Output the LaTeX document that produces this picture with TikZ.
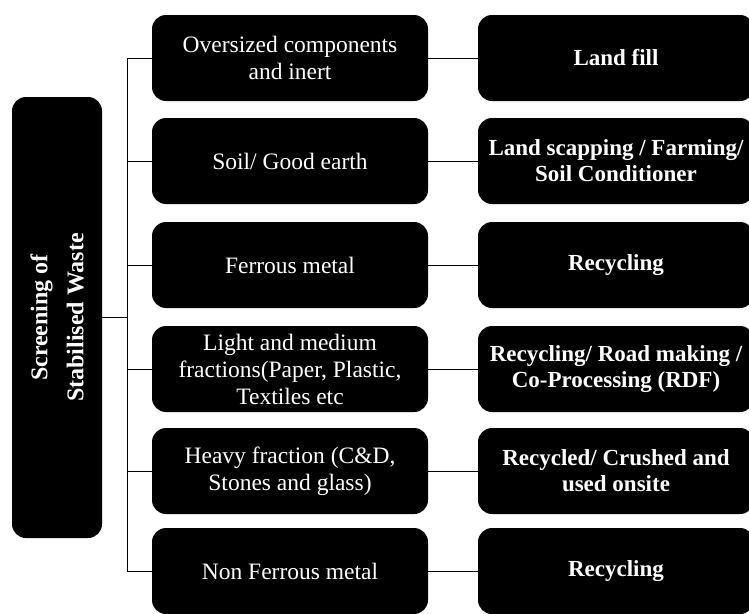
\documentclass[tikz,border=0pt]{standalone}
\usepackage{fontspec}
\setmainfont{Liberation Serif}
\begin{document}
\begin{tikzpicture}[x=1pt,y=-1pt,
  mid/.style={fill=black, rounded corners=14pt, minimum width=276pt, minimum height=86pt,
    text=white, align=center, inner sep=0pt, font=\fontsize{23.5}{27}\selectfont},
  res/.style={mid, font=\fontsize{23}{26}\selectfont\bfseries},
  side/.style={fill=black, rounded corners=14pt, minimum width=90pt, minimum height=441pt, inner sep=0pt},
  sidetext/.style={text=white, align=center, rotate=90, font=\fontsize{24}{36}\selectfont\bfseries},
  conn/.style={line width=1pt},
  link/.style={line width=0.6pt}]
\useasboundingbox (0,0) rectangle (749,613);
\clip (0,0) rectangle (749,613);

\node[side] (L) at (57,317.5) {};
\node[sidetext] (Lt) at (57,317.5) {Screening of\\Stabilised Waste};

\node[mid] (m1) at (290,58) {Oversized components\\and inert};
\node[mid] (m2) at (290,161) {Soil/ Good earth};
\node[mid] (m3) at (290,265) {Ferrous metal};
\node[mid] (m4) at (290,369) {Light and medium\\fractions(Paper, Plastic,\\Textiles etc};
\node[mid] (m5) at (290,471) {Heavy fraction (C\&D,\\Stones and glass)};
\node[mid] (m6) at (290,571) {Non Ferrous metal};

\node[res] (r1) at (616,58) {Land fill};
\node[res] (r2) at (616,161) {Land scapping / Farming/\\Soil Conditioner};
\node[res] (r3) at (616,265) {Recycling};
\node[res] (r4) at (616,369) {Recycling/ Road making /\\Co-Processing (RDF)};
\node[res] (r5) at (616,471) {Recycled/ Crushed and\\used onsite};
\node[res] (r6) at (616,571) {Recycling};

\coordinate (trunk) at (127,317.5);
\draw[conn] (L.east) -- (trunk);
\draw[conn] (trunk |- m1.west) -- (trunk |- m6.west);
\foreach \i in {1,...,6} {
  \draw[conn] (trunk |- m\i.west) -- (m\i.west);
  \draw[link] (m\i.east) -- (r\i.west);
}
\end{tikzpicture}
\end{document}
